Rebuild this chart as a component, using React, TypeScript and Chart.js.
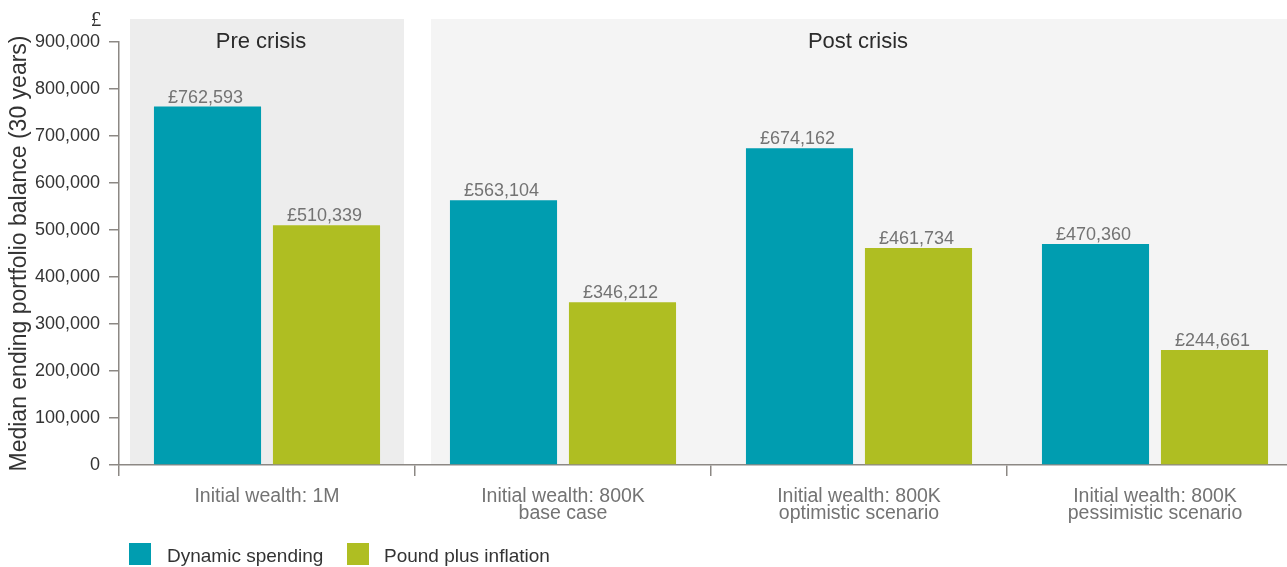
import React, { useEffect, useRef } from "react";
import { Chart, registerables } from "chart.js";

Chart.register(...registerables);

const categories: string[][] = [
  ["Initial wealth: 1M"],
  ["Initial wealth: 800K", "base case"],
  ["Initial wealth: 800K", "optimistic scenario"],
  ["Initial wealth: 800K", "pessimistic scenario"],
];
const dynamicSpending = [762593, 563104, 674162, 470360];
const poundPlusInflation = [510339, 346212, 461734, 244661];
const seriesNames = ["Dynamic spending", "Pound plus inflation"];
const groupTitles = ["Pre crisis", "Post crisis"];
const yTitle = "Median ending portfolio balance (30 years)";
const yUnit = "£";

const TEAL = "#009db0";
const GREEN = "#afbe22";
const AXIS = "#8c8884";
const FONT = "'Liberation Sans', Arial, sans-serif";

const fmt = (v: number) => v.toLocaleString("en-US");

const decorPlugin = {
  id: "decor",
  beforeDraw(chart: any) {
    const ctx = chart.ctx;
    const x = chart.scales.x;
    const area = chart.chartArea;
    const catW = x.getPixelForValue(1) - x.getPixelForValue(0);
    const b0 = x.getPixelForValue(0) - catW / 2;
    const b1 = x.getPixelForValue(1) - catW / 2;
    ctx.save();
    ctx.fillStyle = "#ededed";
    ctx.fillRect(b0 + 11, 19, catW - 22, area.bottom - 19);
    ctx.fillStyle = "#f4f4f4";
    ctx.fillRect(b1 + 16, 19, chart.width - (b1 + 16), area.bottom - 19);
    ctx.restore();
  },
  afterDraw(chart: any) {
    const ctx = chart.ctx;
    const x = chart.scales.x;
    ctx.save();
    // group titles
    ctx.font = `22px ${FONT}`;
    ctx.fillStyle = "#2b2b2b";
    ctx.textAlign = "center";
    ctx.textBaseline = "alphabetic";
    ctx.fillText(groupTitles[0], x.getPixelForValue(0) - 6, 48);
    ctx.fillText(groupTitles[1], 858, 48);
    // unit
    ctx.font = `21px 'Liberation Serif', serif`;
    ctx.fillStyle = "#333";
    ctx.fillText(yUnit, 96, 26);
    // legend
    const items = [
      { c: TEAL, t: seriesNames[0], bx: 129, tx: 167 },
      { c: GREEN, t: seriesNames[1], bx: 347, tx: 384 },
    ];
    ctx.font = `19px ${FONT}`;
    ctx.textAlign = "left";
    for (const it of items) {
      ctx.fillStyle = it.c;
      ctx.fillRect(it.bx, 543, 22, 22);
      ctx.fillStyle = "#333";
      ctx.fillText(it.t, it.tx, 562);
    }
    ctx.restore();
  },
  afterDatasetsDraw(chart: any) {
    const ctx = chart.ctx;
    ctx.save();
    ctx.font = `18px ${FONT}`;
    ctx.fillStyle = "#737373";
    ctx.textAlign = "center";
    ctx.textBaseline = "alphabetic";
    chart.data.datasets.forEach((ds: any, di: number) => {
      const meta = chart.getDatasetMeta(di);
      meta.data.forEach((bar: any, i: number) => {
        ctx.fillText("£" + fmt(ds.data[i]), bar.x - 2, bar.y - 4);
      });
    });
    ctx.restore();
  },
};

export default function App() {
  const ref = useRef<HTMLCanvasElement | null>(null);
  useEffect(() => {
    if (!ref.current) return;
    Chart.defaults.font.family = FONT;
    const chart = new Chart(ref.current, {
      type: "bar",
      data: {
        labels: categories,
        datasets: [
          {
            label: seriesNames[0],
            data: dynamicSpending,
            backgroundColor: TEAL,
            categoryPercentage: 0.804,
            barPercentage: 0.9,
          },
          {
            label: seriesNames[1],
            data: poundPlusInflation,
            backgroundColor: GREEN,
            categoryPercentage: 0.804,
            barPercentage: 0.9,
          },
        ],
      },
      options: {
        responsive: false,
        animation: false,
        devicePixelRatio: 1,
        layout: { padding: { top: 42, left: 0, right: 0, bottom: 0 } },
        plugins: {
          legend: { display: false },
          tooltip: { enabled: false },
        },
        scales: {
          x: {
            type: "category",
            grid: {
              offset: true,
              drawOnChartArea: false,
              drawTicks: true,
              tickLength: 11,
              color: AXIS,
              lineWidth: 1.5,
            },
            border: { display: true, color: AXIS, width: 1.5 },
            ticks: {
              color: "#737373",
              font: { size: 19.5, family: FONT, lineHeight: "17px" } as any,
              padding: 12,
              maxRotation: 0,
              autoSkip: false,
            },
            afterFit: (s: any) => {
              s.height = 102;
            },
          },
          y: {
            min: 0,
            max: 900000,
            ticks: {
              stepSize: 100000,
              color: "#333",
              font: { size: 18, family: FONT },
              padding: 9,
              callback: (v: any) => fmt(Number(v)),
            },
            grid: {
              drawOnChartArea: false,
              drawTicks: true,
              tickLength: 10,
              color: AXIS,
              lineWidth: 1.5,
            },
            border: { display: true, color: AXIS, width: 1.5 },
            title: {
              display: true,
              text: yTitle,
              color: "#333",
              font: { size: 23, family: FONT },
              padding: { top: 6, bottom: 0 },
            },
            afterFit: (s: any) => {
              s.width = 119;
            },
          },
        },
      },
      plugins: [decorPlugin],
    });
    return () => chart.destroy();
  }, []);

  return (
    <div
      style={{
        position: "fixed",
        left: 0,
        top: 0,
        width: 1287,
        height: 567,
        overflow: "hidden",
        background: "#fff",
      }}
    >
      <canvas ref={ref} width={1303} height={567} style={{ display: "block" }} />
    </div>
  );
}
